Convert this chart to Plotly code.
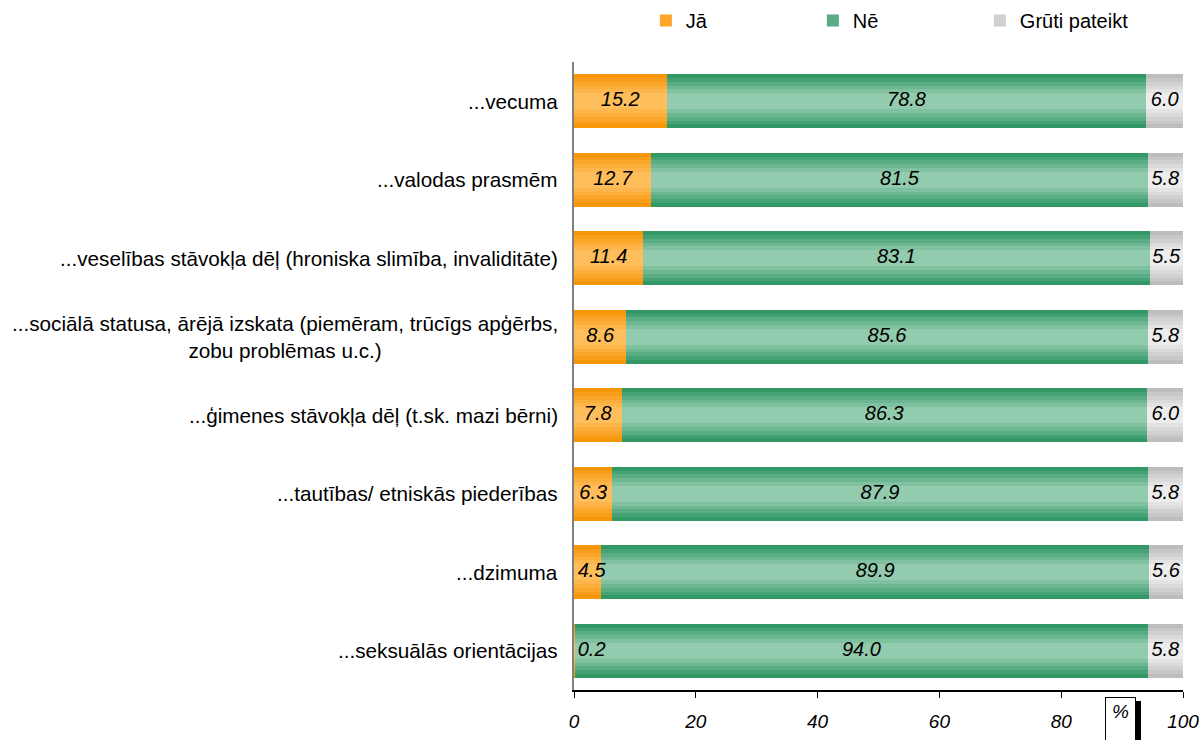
import plotly.graph_objects as go

# dati (augšā -> lejā)
kategorijas = ["...vecuma", "...valodas prasmēm",
               "...veselības stāvokļa dēļ (hroniska slimība, invaliditāte)",
               "...sociālā statusa, ārējā izskata (piemēram, trūcīgs apģērbs,<br>zobu problēmas u.c.)",
               "...ģimenes stāvokļa dēļ (t.sk. mazi bērni)",
               "...tautības/ etniskās piederības", "...dzimuma",
               "...seksuālās orientācijas"]
ja = [15.2, 12.7, 11.4, 8.6, 7.8, 6.3, 4.5, 0.2]
ne = [78.8, 81.5, 83.1, 85.6, 86.3, 87.9, 89.9, 94.0]
gruti = [6.0, 5.8, 5.5, 5.8, 6.0, 5.8, 5.6, 5.8]
serijas = ["Jā", "Nē", "Grūti pateikt"]
x_ticks = [0, 20, 40, 60, 80, 100]

# krāsas: mala -> vidus (gradients)
krasas = {"Jā": ((248, 150, 10), (255, 190, 92)),
          "Nē": ((50, 152, 102), (147, 203, 174)),
          "Grūti pateikt": ((189, 189, 189), (237, 237, 237))}

y_pos = list(range(len(kategorijas)))
bar_w = 0.687
slani = [1.0, 0.86, 0.72, 0.58, 0.44, 0.30]
FONT = "Liberation Sans"


def mix(a, b, t):
    return "rgb(%d,%d,%d)" % tuple(round(a[i] + (b[i] - a[i]) * t) for i in range(3))


fig = go.Figure()
vertibas = {"Jā": ja, "Nē": ne, "Grūti pateikt": gruti}
baze = [0.0] * len(kategorijas)
for s in serijas:
    v = vertibas[s]
    mala, vidus = krasas[s]
    for k, f in enumerate(slani):
        fig.add_trace(go.Bar(
            y=y_pos, x=v, base=baze, orientation="h",
            width=[bar_w * f] * len(v),
            marker=dict(color=mix(mala, vidus, k / (len(slani) - 1)), line_width=0),
            name=s, legendgroup=s, showlegend=(k == 2),
            hoverinfo="skip"))
    # vērtību etiķetes
    centri = [max(b + x / 2, 2.9) for b, x in zip(baze, v)]
    fig.add_trace(go.Scatter(
        y=y_pos, x=centri, mode="text", text=["%.1f" % x for x in v],
        textfont=dict(family=FONT, size=20, color="black", style="italic"),
        showlegend=False, hoverinfo="skip", cliponaxis=False))
    baze = [b + x for b, x in zip(baze, v)]

# kategoriju nosaukumi
for i, k in enumerate(kategorijas):
    fig.add_annotation(x=0, xref="paper", y=i, yref="y", text=k, showarrow=False,
                       xanchor="right", align="center", xshift=-14,
                       font=dict(family=FONT, size=20.7, color="black"))

# "%" lodziņš ar ēnu
fig.add_shape(type="rect", xref="paper", yref="paper",
              x0=(1136 - 574) / 609, x1=(1141 - 574) / 609,
              y0=(690 - 701) / 628, y1=(690 - 745) / 628,
              fillcolor="black", line_width=0)
fig.add_annotation(x=(1105 - 574) / 609, xref="paper", y=(690 - 697) / 628, yref="paper",
                   xanchor="left", yanchor="top", text="%<br> ", showarrow=False,
                   width=23, align="center",
                   font=dict(family=FONT, size=19, color="black", style="italic"),
                   bordercolor="black", borderwidth=1, bgcolor="white", borderpad=3)

fig.update_layout(
    width=1200, height=740, barmode="overlay", bargap=0,
    plot_bgcolor="white", paper_bgcolor="white",
    margin=dict(l=574, r=17, t=62, b=50, autoexpand=False),
    legend=dict(orientation="h", x=0.118, y=1.097, xanchor="left", yanchor="top",
                font=dict(family=FONT, size=20, color="black"),
                entrywidth=122, entrywidthmode="pixels", traceorder="normal"),
    xaxis=dict(range=[0, 100], tickvals=x_ticks, showgrid=False, zeroline=False,
               showline=True, linecolor="black", linewidth=1.5, ticks="outside",
               ticklen=6, tickcolor="black", ticklabelstandoff=7,
               tickfont=dict(family=FONT, size=19, color="black", style="italic")),
    yaxis=dict(range=[len(kategorijas) - 0.5, -0.5], showticklabels=False, showgrid=False,
               zeroline=False, showline=True, linecolor="#808080", linewidth=1.5, ticks=""),
)

# noņem lapas noklusēto 8px atkāpi un rīkjoslu
fig.write_html("out.html", config={"displayModeBar": False},
               post_script="document.body.style.margin='0';document.body.style.overflow='hidden';")
